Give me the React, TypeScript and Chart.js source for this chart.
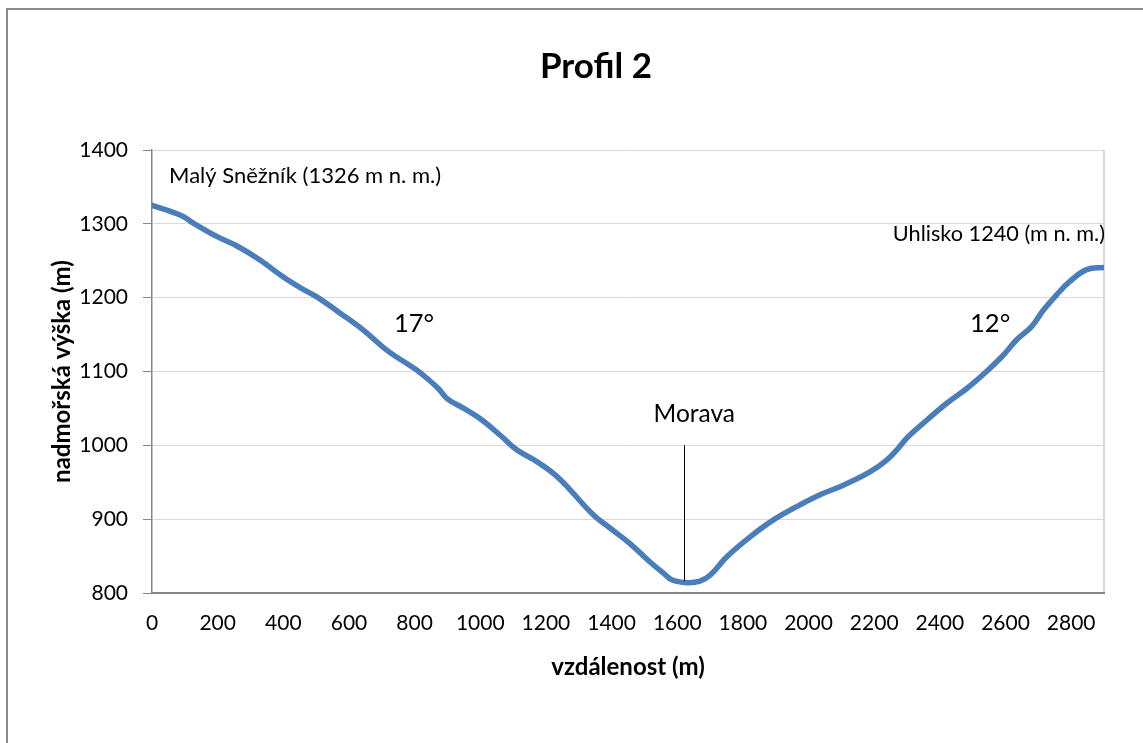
import React, { useEffect, useRef } from "react";
import { Chart, registerables } from "chart.js";

Chart.register(...registerables);

// distance along the profile (m)
const DISTANCE = [
  0, 90, 126, 197, 263, 329, 400, 450, 502, 573, 644, 715, 806, 837, 872, 900,
  950, 1000, 1060, 1111, 1172, 1228, 1273, 1344, 1395, 1456, 1517, 1558, 1583,
  1629, 1669, 1700, 1751, 1822, 1893, 1964, 2035, 2106, 2187, 2238, 2273, 2304,
  2360, 2421, 2482, 2542, 2593, 2634, 2680, 2715, 2756, 2796, 2847, 2900,
];
// elevation (m a.s.l.)
const ELEVATION = [
  1325, 1311, 1301, 1283, 1269, 1251, 1228, 1214, 1201, 1179, 1156, 1129, 1102,
  1091, 1077, 1063, 1050, 1036, 1014, 994, 978, 960, 940, 906, 888, 867, 842,
  827, 818, 814, 816, 824, 849, 876, 899, 917, 933, 946, 964, 980, 996, 1012,
  1034, 1057, 1077, 1100, 1122, 1143, 1161, 1183, 1204, 1222, 1238, 1241,
];

const X_TICKS = [0, 200, 400, 600, 800, 1000, 1200, 1400, 1600, 1800, 2000, 2200, 2400, 2600, 2800];
const X_MAX = 2900;
const Y_TICKS = [800, 900, 1000, 1100, 1200, 1300, 1400];

const TITLE = "Profil 2";
const X_TITLE = "vzdálenost (m)";
const Y_TITLE = "nadmořská výška (m)";

// text annotations placed in data coordinates
const NOTE_TEXT = ["Malý Sněžník (1326 m n. m.)", "17°", "Morava", "Uhlisko 1240 (m n. m.)", "12°"];
const NOTE_X = [52, 737, 1652, 2903, 2492];
const NOTE_Y = [1355, 1153.5, 1031.6, 1277, 1153.5];
const NOTE_SIZE = [22, 25.5, 24.5, 21.7, 25.5];
const NOTE_ALIGN = ["left", "left", "center", "right", "left"];

// river marker (distance, from elevation, to elevation)
const RIVER_MARK = [1622, 1000, 816];

const FONT = "Lato, 'Open Sans', sans-serif";

const annotationsPlugin = {
  id: "profileAnnotations",
  beforeDraw(chart: any) {
    const ctx = chart.ctx;
    ctx.save();
    ctx.strokeStyle = "#8a8a8a";
    ctx.lineWidth = 2;
    ctx.beginPath();
    ctx.moveTo(7, 750);
    ctx.lineTo(7, 9);
    ctx.lineTo(1150, 9);
    ctx.stroke();
    ctx.restore();
  },
  afterDraw(chart: any) {
    const ctx = chart.ctx;
    const xs = chart.scales.x;
    const ys = chart.scales.y;
    ctx.save();
    // title
    ctx.fillStyle = "#000";
    ctx.font = `bold 35px ${FONT}`;
    ctx.textAlign = "center";
    ctx.textBaseline = "alphabetic";
    ctx.fillText(TITLE, 596, 78);
    // notes
    for (let i = 0; i < NOTE_TEXT.length; i++) {
      ctx.font = `${NOTE_SIZE[i]}px ${FONT}`;
      ctx.textAlign = NOTE_ALIGN[i] as CanvasTextAlign;
      ctx.fillText(NOTE_TEXT[i], xs.getPixelForValue(NOTE_X[i]), ys.getPixelForValue(NOTE_Y[i]));
    }
    // river line
    const rx = Math.round(xs.getPixelForValue(RIVER_MARK[0])) + 0.5;
    ctx.strokeStyle = "#000";
    ctx.lineWidth = 1;
    ctx.beginPath();
    ctx.moveTo(rx, ys.getPixelForValue(RIVER_MARK[1]));
    ctx.lineTo(rx, ys.getPixelForValue(RIVER_MARK[2]));
    ctx.stroke();
    ctx.restore();
  },
};

export default function App() {
  const ref = useRef<HTMLCanvasElement | null>(null);

  useEffect(() => {
    if (!ref.current) return;
    const points = DISTANCE.map((d, i) => ({ x: d, y: ELEVATION[i] }));
    const chart = new Chart(ref.current, {
      type: "line",
      data: {
        datasets: [
          {
            data: points,
            borderColor: "#4a7ebb",
            borderWidth: 5.5,
            pointRadius: 0,
            tension: 0.4,
            borderCapStyle: "round",
            borderJoinStyle: "round",
            fill: false,
          },
        ],
      },
      options: {
        animation: false,
        responsive: false,
        devicePixelRatio: 1,
        layout: { padding: { left: 0, right: 39, top: 150, bottom: 0 } },
        plugins: {
          legend: { display: false },
          tooltip: { enabled: false },
          title: { display: false },
        },
        scales: {
          x: {
            type: "linear",
            min: 0,
            max: X_MAX,
            afterBuildTicks: (scale: any) => {
              scale.ticks = [...X_TICKS, X_MAX].map((v) => ({ value: v }));
            },
            afterFit: (scale: any) => {
              scale.height = 150;
            },
            ticks: {
              autoSkip: false,
              maxRotation: 0,
              padding: 17.5,
              color: "#000",
              font: { family: FONT, size: 21 },
              callback: (v: any) => (X_TICKS.includes(Number(v)) ? String(v) : ""),
            },
            grid: {
              drawTicks: false,
              color: (c: any) => (c.tick && c.tick.value === X_MAX ? "#d9d9d9" : "rgba(0,0,0,0)"),
              lineWidth: 2,
            },
            border: { color: "#868686", width: 2 },
            title: {
              display: true,
              text: X_TITLE,
              color: "#000",
              font: { family: FONT, size: 24, weight: "bold" },
              padding: { top: 0, bottom: 61.6 },
            },
          },
          y: {
            type: "linear",
            min: 800,
            max: 1400,
            afterBuildTicks: (scale: any) => {
              scale.ticks = Y_TICKS.map((v) => ({ value: v }));
            },
            afterFit: (scale: any) => {
              scale.width = 152;
            },
            ticks: {
              padding: 15,
              color: "#000",
              font: { family: FONT, size: 21 },
              callback: (v: any) => String(v),
            },
            grid: {
              color: "#d9d9d9",
              lineWidth: 1,
              tickColor: "#868686",
              tickLength: 9,
            },
            border: { color: "#868686", width: 1.5 },
            title: {
              display: true,
              text: Y_TITLE,
              color: "#000",
              font: { family: FONT, size: 24, weight: "bold" },
              padding: { top: 47.6, bottom: 0 },
            },
          },
        },
      },
      plugins: [annotationsPlugin],
    });
    return () => chart.destroy();
  }, []);

  return (
    <div style={{ position: "fixed", left: 0, top: 0, width: 1143, height: 743, overflow: "hidden", background: "#fff" }}>
      <canvas ref={ref} width={1143} height={743} style={{ display: "block", width: 1143, height: 743 }} />
    </div>
  );
}
